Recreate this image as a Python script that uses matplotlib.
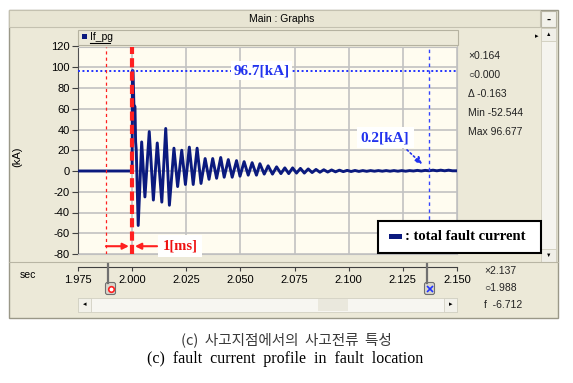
import matplotlib
matplotlib.use("Agg")
import matplotlib.pyplot as plt
from matplotlib.patches import Rectangle, FancyBboxPatch
import numpy as np

plt.rcParams['axes.unicode_minus'] = False

# ---- data ----
# fault inception spike
spike_t = [1.9750, 2.0000, 2.0001, 2.0004, 2.0008, 2.0013, 2.0016, 2.0019]
spike_i = [0.0, 0.0, 96.7, 96.7, 64.0, 62.0, 28.0, 20.0]

# decaying oscillation, extrema (sec, kA)
osc_t = [2.0028, 2.0044, 2.0059, 2.0079, 2.0098, 2.0116, 2.0137, 2.0155, 2.0172, 2.0193,
         2.0210, 2.0229, 2.0246, 2.0264, 2.0282, 2.0300, 2.0318, 2.0337, 2.0355, 2.0372,
         2.0390, 2.0409, 2.0425, 2.0444, 2.0462, 2.0482, 2.0498, 2.0517, 2.0536, 2.0554,
         2.0574, 2.0590, 2.0610, 2.0628, 2.0648, 2.0667, 2.0687, 2.0705, 2.0723, 2.0741,
         2.0759, 2.0777, 2.0795, 2.0813, 2.0831, 2.0849, 2.0867, 2.0885, 2.0903, 2.0921,
         2.0939, 2.0957, 2.0975, 2.0993, 2.1011, 2.1029, 2.1047, 2.1065, 2.1083, 2.1101,
         2.1119, 2.1137, 2.1155, 2.1173, 2.1191, 2.1209, 2.1227, 2.1245, 2.1263, 2.1281,
         2.1299, 2.1317, 2.1335, 2.1353, 2.1371, 2.1389, 2.1407, 2.1425, 2.1443, 2.1461,
         2.1479, 2.1500]
osc_i = [-52.5, 28, -25, 38, -28, 27, -30, 41, -33, 22,
         -15, 20, -13, 23, -13, 22, -12, 12, -8, 12,
         -7, 13, -6, 11, -6, 10, -5, 9, -4, 8,
         -4, 7, -3, 5, -3, 4, -2.5, 3, -2.5, 3,
         -2, 2.5, -2, 2, -1.5, 1.5, -1.2, 1.2, -1, 1,
         -0.8, 0.8, -0.6, 0.6, -0.5, 0.5, -0.4, 0.4, -0.3, 0.4,
         -0.2, 0.4, -0.2, 0.4, -0.2, 0.4, -0.2, 0.4, -0.2, 0.4,
         0.0, 0.6, 0.0, 0.6, 0.2, 0.8, 0.2, 0.8, 0.2, 0.8,
         0.2, 0.2]

x_ticks = [1.975, 2.000, 2.025, 2.050, 2.075, 2.100, 2.125, 2.150]
y_ticks = [-80, -60, -40, -20, 0, 20, 40, 60, 80, 100, 120]
peak_val = 96.7
cursor_o = 1.988
cursor_x = 2.137
info_right = ["\u00d70.164", "\u25cb0.000", "\u0394 -0.163", "Min -52.544", "Max 96.677"]
info_bottom = ["\u00d72.137", "\u25cb1.988", "f  -6.712"]

t = spike_t + osc_t
cur = spike_i + osc_i

W, H = 573, 383
UI = ['Liberation Sans', 'DejaVu Sans']
SERIF = 'Liberation Serif'
BEIGE = '#ECE9D8'


def box(x0, y0, x1, y1):
    # pixel box (top-left origin) -> figure fraction rect
    return [x0 / W, 1 - y1 / H, (x1 - x0) / W, (y1 - y0) / H]


fig = plt.figure(figsize=(W / 100, H / 100), dpi=100)

# background / window chrome in pixel coords
bg = fig.add_axes([0, 0, 1, 1], zorder=0)
bg.set_xlim(0, W); bg.set_ylim(H, 0); bg.axis('off')

bg.add_patch(Rectangle((9, 10), 549, 308, fc=BEIGE, ec='#9A9888', lw=1))
bg.add_patch(Rectangle((9, 10), 531, 17, fc='#E8E5D3', ec='#C4C1B0', lw=0.8))
bg.text(282, 19, "Main : Graphs", ha='center', va='center', fontsize=7.5, family=UI)
bg.add_patch(Rectangle((541, 11), 15, 16, fc='#F2F1EA', ec='#B8B5A4', lw=0.8))
bg.text(548.5, 20, "-", ha='center', va='center', fontsize=9, weight='bold', family=UI)

# series header bar
bg.add_patch(Rectangle((78, 30), 380, 15, fc=BEIGE, ec='#B5B2A0', lw=0.8))
bg.add_patch(Rectangle((82, 34), 5, 5, fc='#0B1A7E', ec='none'))
bg.text(90, 37, "If_pg", ha='left', va='center', fontsize=7.5, family=UI)
bg.plot([90, 110], [43, 43], color='black', lw=0.8)

# right scroll bar
bg.add_patch(Rectangle((541, 28), 15, 234, fc='#F5F4EF', ec='#CFCCBC', lw=0.6))
bg.add_patch(Rectangle((541, 28), 15, 13, fc='#F0EFE8', ec='#CFCCBC', lw=0.6))
bg.add_patch(Rectangle((541, 249), 15, 13, fc='#F0EFE8', ec='#CFCCBC', lw=0.6))
bg.text(548.5, 34.5, "\u25b2", ha='center', va='center', fontsize=4, family=UI)
bg.text(548.5, 255.5, "\u25bc", ha='center', va='center', fontsize=4, family=UI)
bg.text(537, 37, "\u25b8", ha='center', va='center', fontsize=5, family=UI)

bg.text(17, 157, "(kA)", rotation=90, ha='center', va='center', fontsize=8, family=UI)

for k, s in enumerate(info_right):
    bg.text(468, 56 + 19 * k, s, ha='left', va='center', fontsize=7.5, family=UI,
            color='#222222')

# bottom strip
bg.plot([9, 558], [262, 262], color='#B8B5A4', lw=0.8)
bg.text(28, 275, "sec", ha='center', va='center', fontsize=7.5, family=UI)
bg.add_patch(Rectangle((78, 298), 379, 14, fc='#F7F6F1', ec='#D2D0C2', lw=0.6))
bg.add_patch(Rectangle((78, 298), 13, 14, fc='#F2F1EA', ec='#D2D0C2', lw=0.6))
bg.add_patch(Rectangle((444, 298), 13, 14, fc='#F2F1EA', ec='#D2D0C2', lw=0.6))
bg.add_patch(Rectangle((318, 299), 30, 12, fc='#EAE8DD', ec='none'))
bg.text(84.5, 305, "\u25c2", ha='center', va='center', fontsize=5, family=UI)
bg.text(450.5, 305, "\u25b8", ha='center', va='center', fontsize=5, family=UI)
for k, s in enumerate(info_bottom):
    bg.text(484, 271 + 17 * k, s, ha='left', va='center', fontsize=7.5, family=UI,
            color='#222222')

# captions
bg.text(286, 340, "(c)  사고지점에서의  사고전류  특성", ha='center', va='center',
        fontsize=10.5, color='#3A3A3A', family=['Noto Sans CJK KR', 'DejaVu Sans'])
bg.text(285, 359, "(c)  fault  current  profile  in  fault  location", ha='center',
        va='center', fontsize=11.5, family=SERIF)

# main plot
ax = fig.add_axes(box(78, 46.5, 457, 254), zorder=2)
ax.set_facecolor('#FFFCF0')
ax.plot(t, cur, color='#0B1A7E', lw=2.1, zorder=3, solid_joinstyle='round')
ax.set_xlim(x_ticks[0], x_ticks[-1])
ax.set_ylim(y_ticks[0], y_ticks[-1])
ax.set_xticks(x_ticks)
ax.set_yticks(y_ticks)
ax.grid(True, color='#C2C2C2', lw=1.2)
ax.set_axisbelow(True)
ax.tick_params(axis='x', length=0, labelbottom=False)
ax.tick_params(axis='y', length=4, width=0.8, color='#404040', labelsize=8, pad=2)
for lab in ax.get_yticklabels():
    lab.set_family(UI)
for side in ['top', 'right', 'bottom']:
    ax.spines[side].set_color('#C0C0C0')
ax.spines['left'].set_color('#505050')

ax.axhline(peak_val, color='#2233FF', ls=(0, (1, 1.3)), lw=1.4, zorder=4)
ax.axvline(cursor_o, color='#FF2020', ls=(0, (2.5, 2.5)), lw=0.9, zorder=4)
ax.axvline(2.000, color='#FF2020', ls=(0, (2.2, 1.0)), lw=3, zorder=4)
ax.axvline(cursor_x, color='#3344FF', ls=(0, (2.5, 2.5)), lw=1, zorder=4)

ax.text(2.0597, peak_val, "96.7[kA]", ha='center', va='center', fontsize=11,
        weight='bold', family=SERIF, color='#2233EE', zorder=5,
        bbox=dict(fc='white', ec='none', pad=2))
ax.text(2.1168, 32, "0.2[kA]", ha='center', va='center', fontsize=11,
        weight='bold', family=SERIF, color='#2233EE', zorder=5,
        bbox=dict(fc='white', ec='none', pad=3))
ax.annotate("", xy=(2.1348, 4.8), xytext=(2.1260, 22.2),
            arrowprops=dict(arrowstyle='-|>', color='#2233EE', lw=1.2, ls=':',
                            mutation_scale=10), zorder=5)
ax.text(2.0221, -72.5, "1[ms]", ha='center', va='center', fontsize=10.5,
        weight='bold', family=SERIF, color='#EE1111', zorder=6, clip_on=False,
        bbox=dict(fc='white', ec='none', pad=3))
ax.annotate("", xy=(1.9985, -72.5), xytext=(1.9879, -72.5),
            arrowprops=dict(arrowstyle='-|>', color='#FF2020', lw=1.5,
                            mutation_scale=9, shrinkA=0, shrinkB=0), zorder=6)
ax.annotate("", xy=(2.0013, -72.5), xytext=(2.0115, -72.5),
            arrowprops=dict(arrowstyle='-|>', color='#FF2020', lw=1.5,
                            mutation_scale=9, shrinkA=0, shrinkB=0), zorder=6)

# bottom time axis
axx = fig.add_axes(box(78, 266, 457, 267), zorder=1)
axx.set_facecolor('none')
axx.set_xlim(x_ticks[0], x_ticks[-1])
axx.set_xticks(x_ticks)
axx.set_xticklabels([f"{v:.3f}" for v in x_ticks])
axx.set_yticks([])
for side in ['top', 'right', 'left']:
    axx.spines[side].set_visible(False)
axx.spines['bottom'].set_color('#404040')
axx.tick_params(axis='x', length=3, width=0.8, color='#404040', labelsize=8, pad=3)
for lab in axx.get_xticklabels():
    lab.set_family(UI)

# overlay: legend box and cursor tabs
top = fig.add_axes([0, 0, 1, 1], zorder=10)
top.set_xlim(0, W); top.set_ylim(H, 0); top.axis('off')
top.patch.set_alpha(0)

top.add_patch(Rectangle((378, 221), 163, 32, fc='white', ec='black', lw=1.5))
top.add_patch(Rectangle((389, 234), 13, 5, fc='#0B1A7E', ec='none'))
top.text(405, 236.5, ": total fault current", ha='left', va='center', fontsize=10.5,
         weight='bold', family=SERIF)

for cx, mk, col in [(108, 'o', '#FF2020'), (427, 'x', '#2233FF')]:
    top.plot([cx, cx], [264, 283], color='#707070', lw=1.6)
    top.add_patch(FancyBboxPatch((cx - 2, 283), 9, 11, boxstyle='round,pad=0.5,rounding_size=2',
                                 fc='#D8D6CC', ec='#707070', lw=0.8))
    top.plot([cx + 2.5], [289], marker=mk, color=col, ms=4, mew=1.2,
             mfc='white' if mk == 'o' else col)

fig.savefig("out.png", dpi=100)
